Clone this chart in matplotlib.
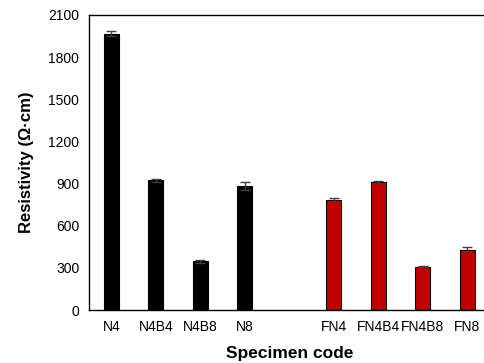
import matplotlib
matplotlib.use("Agg")
import matplotlib.pyplot as plt
import numpy as np

# ===== 데이터 =====
labels_n = ["N4", "N4B4", "N4B8", "N8"]
values_n = [1965, 922, 348, 882]
errors_n = [18, 8, 10, 30]

labels_fn = ["FN4", "FN4B4", "FN4B8", "FN8"]
values_fn = [785, 910, 308, 430]
errors_fn = [10, 5, 4, 15]

plt.rcParams['font.family'] = ['Liberation Sans', 'DejaVu Sans']

fig = plt.figure(figsize=(4.84, 3.63), dpi=100)
# 오른쪽 테두리는 그림 밖으로 잘려 나가 있음
ax = fig.add_axes([89 / 484, 53 / 363, 400.5 / 484, 295 / 363])

gap = 2  # 두 그룹 사이 간격 (칸 수)
x_n = np.arange(len(labels_n))
x_fn = np.arange(len(labels_fn)) + len(labels_n) - 1 + gap

width = 0.34
err_kw = dict(ecolor='#404040', elinewidth=1, capsize=3.5, capthick=1)
ax.bar(x_n, values_n, width, color='black', edgecolor='black', linewidth=0.8,
       yerr=errors_n, error_kw=err_kw, zorder=2)
ax.bar(x_fn, values_fn, width, color='#C00000', edgecolor='black', linewidth=0.8,
       yerr=errors_fn, error_kw=err_kw, zorder=2)

ax.set_xlim(-0.5, x_fn[-1] + 0.5)
ax.set_ylim(0, 2100)
ax.set_yticks(range(0, 2101, 300))
ax.set_xticks(list(x_n) + list(x_fn))
ax.set_xticklabels(labels_n + labels_fn)
ax.tick_params(length=0, labelsize=10, colors='black', pad=7)

for s in ax.spines.values():
    s.set_color('black')
    s.set_linewidth(1.0)

ax.set_ylabel('Resistivity (Ω·cm)', fontsize=12, fontweight='bold', labelpad=10)
ax.set_xlabel('Specimen code', fontsize=12.5, fontweight='bold', labelpad=9)

fig.savefig("out.png", dpi=100)
